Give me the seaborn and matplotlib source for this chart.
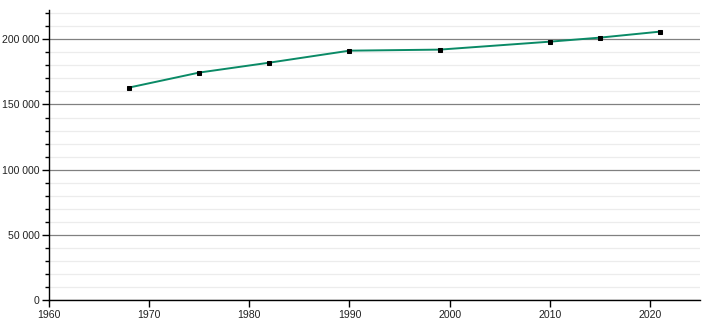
import matplotlib
matplotlib.use("Agg")
import matplotlib.pyplot as plt
import seaborn as sns
import pandas as pd
from matplotlib.ticker import MultipleLocator, FuncFormatter

years = [1968, 1975, 1982, 1990, 1999, 2010, 2015, 2021]
population = [163000, 174500, 182100, 191300, 192100, 198200, 201300, 205900]

df = pd.DataFrame({"year": years, "population": population})

sns.set_style("white")
plt.rcParams["font.family"] = ["Liberation Sans", "DejaVu Sans"]

fig = plt.figure(figsize=(7.1, 3.2), dpi=100)
ax = fig.add_axes([49/710, 20/320, (700-49)/710, (300-10)/320])

ax.set_xlim(1960, 2025)
ax.set_ylim(0, 222500)
ax.yaxis.set_major_locator(MultipleLocator(50000))
ax.yaxis.set_minor_locator(MultipleLocator(10000))
ax.xaxis.set_major_locator(MultipleLocator(10))
ax.grid(which="minor", axis="y", color="#ececec", linewidth=0.9)
ax.grid(which="major", axis="y", color="#808080", linewidth=0.9)
ax.set_axisbelow(True)

sns.lineplot(data=df, x="year", y="population", ax=ax, color="#0a8a66",
             linewidth=1.4, marker="s", markersize=3.4, markerfacecolor="black",
             markeredgecolor="black")

ax.yaxis.set_major_formatter(FuncFormatter(lambda v, p: f"{int(v):,}".replace(",", " ")))
for s in ["top", "right"]:
    ax.spines[s].set_visible(False)
for s in ["left", "bottom"]:
    ax.spines[s].set_color("black")
    ax.spines[s].set_linewidth(1.0)
ax.tick_params(axis="both", which="major", direction="out", length=5, width=1,
               color="black", labelcolor="#222222", labelsize=7.6, pad=2,
               left=True, bottom=True)
ax.tick_params(axis="y", which="minor", direction="out", length=3, width=1,
               color="black", left=True)
ax.set_xlabel("")
ax.set_ylabel("")

fig.savefig("out.png", dpi=100)
